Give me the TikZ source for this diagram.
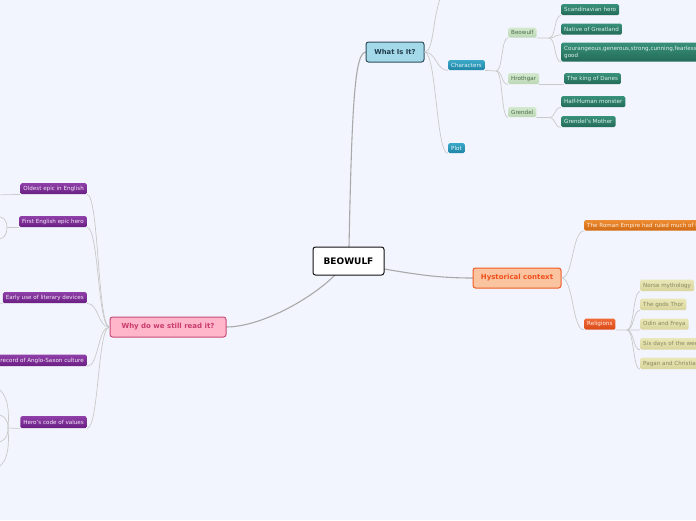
\documentclass[tikz,border=0pt]{standalone}
\usepackage{fontspec}
\setmainfont{DejaVu Sans}
\definecolor{bg}{HTML}{F2F5FD}
\definecolor{linkmain}{HTML}{A9A9A9}
\definecolor{linksub}{HTML}{C9C9C9}
\definecolor{tealT}{HTML}{3AA8C8}
\definecolor{tealB}{HTML}{1F84A4}
\definecolor{tealX}{HTML}{E8F6FA}
\definecolor{dgT}{HTML}{38907A}
\definecolor{dgB}{HTML}{236B58}
\definecolor{dgX}{HTML}{DEF0EA}
\definecolor{lgT}{HTML}{D3E8CE}
\definecolor{lgB}{HTML}{BCD8B5}
\definecolor{lgX}{HTML}{4A6B47}
\definecolor{puT}{HTML}{8F3FA8}
\definecolor{puB}{HTML}{6A1E82}
\definecolor{puX}{HTML}{F5EBFA}
\definecolor{orT}{HTML}{EE8A30}
\definecolor{orB}{HTML}{D06A12}
\definecolor{orX}{HTML}{FFF0E1}
\definecolor{reT}{HTML}{F06A38}
\definecolor{reB}{HTML}{DA4A18}
\definecolor{reX}{HTML}{FFEEE4}
\definecolor{khT}{HTML}{EAE7B8}
\definecolor{khB}{HTML}{D9D59C}
\definecolor{khX}{HTML}{8A8760}
\definecolor{beoD}{HTML}{111111}
\definecolor{whD}{HTML}{2F4D5C}
\definecolor{whF}{HTML}{A3D9E8}
\definecolor{whX}{HTML}{1F3A4A}
\definecolor{hyD}{HTML}{F15A24}
\definecolor{hyF}{HTML}{F9C49F}
\definecolor{hyX}{HTML}{F04E1C}
\definecolor{wyD}{HTML}{C94A78}
\definecolor{wyF}{HTML}{FFB5CA}
\definecolor{wyX}{HTML}{C83C6C}
\begin{document}
\begin{tikzpicture}[x=1pt,y=-1pt,
  mainlink/.style={draw=linkmain,line width=1.1pt},
  sublink/.style={draw=linksub,line width=0.7pt},
  bignode/.style={rounded corners=2.5pt,line width=1pt,inner sep=0pt,font=\fontsize{7}{8}\selectfont\bfseries},
  smallbox/.style={rounded corners=1.5pt,inner xsep=3pt,inner ysep=0pt,font=\fontsize{5.6}{6.5}\selectfont,anchor=north west},
  tealbox/.style={smallbox,top color=tealT,bottom color=tealB,text=tealX},
  dgbox/.style={smallbox,top color=dgT,bottom color=dgB,text=dgX},
  lgbox/.style={smallbox,top color=lgT,bottom color=lgB,text=lgX},
  pubox/.style={smallbox,anchor=north east,top color=puT,bottom color=puB,text=puX},
  orbox/.style={smallbox,top color=orT,bottom color=orB,text=orX},
  rebox/.style={smallbox,top color=reT,bottom color=reB,text=reX},
  khbox/.style={smallbox,top color=khT,bottom color=khB,text=khX}
]
\useasboundingbox (0,0) rectangle (696,520);
\clip (0,0) rectangle (696,520);
\fill[bg] (0,0) rectangle (696,520);

% junction coordinates and off-canvas ends
\coordinate (jc) at (496,71);
\coordinate (jb) at (549,38);
\coordinate (jg) at (549,117.5);
\coordinate (jr) at (627,330);
\coordinate (jp2) at (7,227.5);
\coordinate (jp5) at (8,428);
\coordinate (top) at (441,-4);
\coordinate (e1) at (-4,195);
\coordinate (e2a) at (-8,216);
\coordinate (e2b) at (-8,240);
\coordinate (e3) at (-4,303);
\coordinate (e5a) at (-10,385);
\coordinate (e5b) at (-8,414);
\coordinate (e5c) at (-8,443);
\coordinate (e5d) at (-10,471);
\coordinate (bn) at (349,247);
\coordinate (be) at (384,269);
\coordinate (bs) at (335,275);

% main links (drawn first so nodes sit on top)
\draw[mainlink] (bn) .. controls (352,100) and (355,52) .. (366,52);
\draw[mainlink] (be) .. controls (420,275) and (440,278) .. (473,278);
\draw[mainlink] (bs) .. controls (310,300) and (260,327) .. (226,327);

% main nodes
\node[bignode,draw=beoD,fill=white,minimum width=71pt,minimum height=28pt,font=\fontsize{9}{10}\selectfont\bfseries] (beo) at (348.5,261) {BEOWULF};
\node[bignode,draw=whD,fill=whF,text=whX,minimum width=58pt,minimum height=20pt,font=\fontsize{6.8}{8}\selectfont\bfseries] (what) at (395,52) {What Is It?};
\node[bignode,draw=hyD,fill=hyF,text=hyX,minimum width=88pt,minimum height=20pt] (hyst) at (517,278) {Hystorical context};
\node[bignode,draw=wyD,fill=wyF,text=wyX,minimum width=116pt,minimum height=20pt] (why) at (168,327) {Why do we still read it?};

% What is it branch
\node[tealbox,minimum height=10pt] (char) at (448,60) {Characters};
\node[tealbox,minimum height=10pt] (plot) at (448,143) {Plot};
\node[lgbox,minimum height=10pt] (bw) at (508,27.5) {Beowulf};
\node[lgbox,minimum height=11pt] (hr) at (508,73) {Hrothgar};
\node[lgbox,minimum height=10pt] (gr) at (508,107) {Grendel};
\node[dgbox,minimum height=11pt] (scand) at (561,4) {Scandinavian hero};
\node[dgbox,minimum height=11pt] (native) at (561,23.5) {Native of Greatland};
\node[dgbox,minimum height=19pt,align=left,font=\fontsize{5.6}{7}\selectfont] (cour) at (561,42.5) {Courangeous,generous,strong,cunning,fearless,\\good};
\node[dgbox,minimum height=11pt] (king) at (564,73) {The king of Danes};
\node[dgbox,minimum height=11pt] (half) at (561,96) {Half-Human monster};
\node[dgbox,minimum height=11pt] (gm) at (561,116) {Grendel's Mother};

% Hystorical context branch
\node[orbox,minimum height=10.5pt] (roman) at (584,220) {The Roman Empire had ruled much of the};
\node[rebox,minimum height=11pt] (rel) at (584,318.5) {Religions};
\node[khbox,minimum height=11.5pt] (k1) at (640,279.5) {Norse mythology};
\node[khbox,minimum height=11.5pt] (k2) at (640,298.5) {The gods Thor};
\node[khbox,minimum height=11pt] (k3) at (640,318.5) {Odin and Freya};
\node[khbox,minimum height=11.5pt] (k4) at (640,338) {Six days of the week};
\node[khbox,minimum height=11.5pt] (k5) at (640,357.5) {Pagan and Christian};

% Why branch
\node[pubox,minimum height=11pt] (p1) at (87,183) {Oldest epic in English};
\node[pubox,minimum height=11pt] (p2) at (87,216) {First English epic hero};
\node[pubox,minimum height=11pt] (p3) at (87,292) {Early use of literary devices};
\node[pubox,minimum height=11.5pt] (p4) at (87,354.5) {record of Anglo-Saxon culture};
\node[pubox,minimum height=12pt] (p5) at (87,416) {Hero's code of values};

% what is it links
\draw[sublink] (what.east) .. controls (434,52) and (432,20) .. (top);
\draw[sublink] (what.east) .. controls +(12,0) and +(-12,0) .. (char.south west);
\draw[sublink] (what.east) .. controls +(12,0) and +(-12,0) .. (plot.south west);
\draw[sublink] (char.south east) -- (jc);
\draw[sublink] (jc) .. controls +(7,0) and +(-7,0) .. (bw.south west);
\draw[sublink] (jc) .. controls +(7,0) and +(-7,0) .. (hr.south west);
\draw[sublink] (jc) .. controls +(7,0) and +(-7,0) .. (gr.south west);
\draw[sublink] (bw.south east) -- (jb);
\draw[sublink] (jb) .. controls +(7,0) and +(-7,0) .. (scand.south west);
\draw[sublink] (jb) .. controls +(7,0) and +(-7,0) .. (native.south west);
\draw[sublink] (jb) .. controls +(7,0) and +(-7,0) .. (cour.south west);
\draw[sublink] (hr.south east) -- (king.south west);
\draw[sublink] (gr.south east) -- (jg);
\draw[sublink] (jg) .. controls +(7,0) and +(-7,0) .. (half.south west);
\draw[sublink] (jg) .. controls +(7,0) and +(-7,0) .. (gm.south west);

% hystorical links
\draw[sublink] (hyst.east) .. controls +(12,0) and +(-12,0) .. (roman.south west);
\draw[sublink] (hyst.east) .. controls +(12,0) and +(-12,0) .. (rel.south west);
\draw[sublink] (rel.south east) -- (jr);
\foreach \k in {k1,k2,k3,k4,k5}
  \draw[sublink] (jr) .. controls +(7,0) and +(-7,0) .. (\k.south west);

% why links
\foreach \p in {p1,p2,p3,p4,p5}
  \draw[sublink] (why.west) .. controls +(-12,0) and +(12,0) .. (\p.south east);
\draw[sublink] (p1.south west) -- (e1);
\draw[sublink] (p2.south west) -- (jp2);
\draw[sublink] (jp2) .. controls (7,221) and (5,216) .. (e2a);
\draw[sublink] (jp2) .. controls (7,234) and (5,240) .. (e2b);
\draw[sublink] (p3.south west) -- (e3);
\draw[sublink] (p5.south west) -- (jp5);
\draw[sublink] (jp5) .. controls (10,405) and (6,388) .. (e5a);
\draw[sublink] (jp5) .. controls (8,420) and (5,414) .. (e5b);
\draw[sublink] (jp5) .. controls (8,436) and (5,443) .. (e5c);
\draw[sublink] (jp5) .. controls (10,452) and (6,468) .. (e5d);
\end{tikzpicture}
\end{document}
